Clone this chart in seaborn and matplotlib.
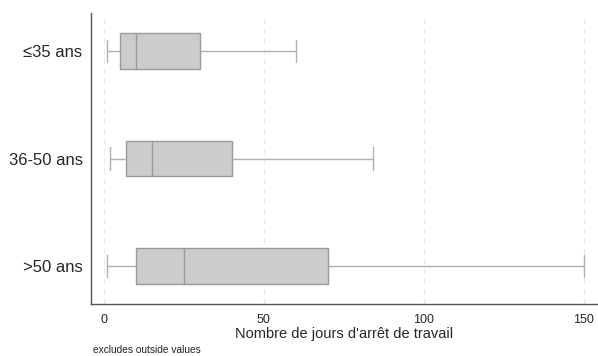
import matplotlib
matplotlib.use("Agg")
import matplotlib.pyplot as plt
import seaborn as sns
import pandas as pd

# Data: five-number summaries (min, Q1, median, Q3, max)
categories = ["≤35 ans", "36-50 ans", ">50 ans"]
age_le35 = [1, 5, 10, 30, 60]
age_36_50 = [2, 7, 15, 40, 84]
age_gt50 = [1, 10, 25, 70, 150]
x_ticks = [0, 50, 100, 150]

df = pd.DataFrame({
    "groupe": [categories[0]] * len(age_le35) + [categories[1]] * len(age_36_50) + [categories[2]] * len(age_gt50),
    "jours": age_le35 + age_36_50 + age_gt50,
})

sns.set_style("white")
plt.rcParams["font.family"] = ["Liberation Sans", "DejaVu Sans"]

fig = plt.figure(figsize=(5.98, 3.56), dpi=100)
ax = fig.add_axes([0.152, 0.146, 0.848, 0.817])

for t in x_ticks:
    ax.axvline(t, ymax=0.99, color="#e8e8e8", linestyle=(0, (5, 4)), linewidth=0.8, zorder=0)

sns.boxplot(data=df, x="jours", y="groupe", order=categories, orient="h",
            whis=(0, 100), width=0.33, color="#cccccc", linecolor="#9a9a9a",
            linewidth=1.0, showfliers=False, capwidths=0.21, ax=ax,
            whiskerprops=dict(color="#b0b0b0"), capprops=dict(color="#b0b0b0"),
            boxprops=dict(facecolor="#cccccc", edgecolor="#9a9a9a"),
            medianprops=dict(color="#9a9a9a"))

ax.set_xlim(-4.06, 154.4)
ax.set_ylim(2.353, -0.353)
ax.set_xticks(x_ticks)
ax.set_xticklabels([str(t) for t in x_ticks], fontsize=9)
ax.set_yticks(range(len(categories)))
ax.set_yticklabels(categories, fontsize=12)
ax.set_xlabel("Nombre de jours d'arrêt de travail", fontsize=10.5, labelpad=1)
ax.set_ylabel("")
ax.tick_params(axis="x", length=4, width=0.8, color="#555555", pad=3)
ax.tick_params(axis="y", length=0, pad=6)
for s in ["top", "right"]:
    ax.spines[s].set_visible(False)
for s in ["left", "bottom"]:
    ax.spines[s].set_color("#555555")
    ax.spines[s].set_linewidth(1.0)

fig.text(0.155, 0.004, "excludes outside values", fontsize=7.3, va="bottom", ha="left", color="#222222")

fig.savefig("out.png", dpi=100)
